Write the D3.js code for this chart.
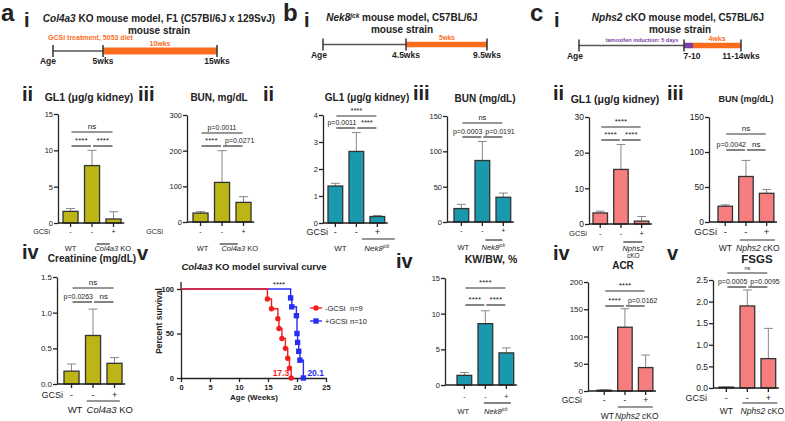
<!DOCTYPE html>
<html>
<head>
<meta charset="utf-8">
<script src="https://cdn.jsdelivr.net/npm/d3@7"></script>
<style>
  body { margin: 0; background: #fff; }
  svg { font-family: "Liberation Sans", Arial, sans-serif; }
</style>
</head>
<body>
<svg id="fig" width="785" height="421"></svg>
<script>
// ---------- data ----------
const groups = ["WT", "KO", "KO+GCSi"];
const gcsiSigns = ["-", "-", "+"];
const sigPairs = [[0, 2], [0, 1], [1, 2]];

// a: Col4a3 KO
const aTimeLabels = ["Age", "5wks", "15wks"];
const aGl1Mean = [1.6, 7.9, 0.55];
const aGl1Sd = [0.4, 2.1, 1.0];
const aGl1Ticks = [0, 5, 10, 15];
const aGl1Sig = ["ns", "****", "****"];

const aBunMean = [25, 111, 55];
const aBunSd = [4, 89, 16];
const aBunTicks = [0, 100, 200, 300];
const aBunSig = ["p=0.0011", "****", "p=0.0271"];

const aCreMean = [0.18, 0.68, 0.29];
const aCreSd = [0.1, 0.37, 0.08];
const aCreTicks = [0, 0.5, 1.0, 1.5];
const aCreSig = ["ns", "p=0.0263", "ns"];

const survWeekTicks = [0, 5, 10, 15, 20, 25];
const survPctTicks = [0, 50, 100];
const noGcsiTime = [0, 14.9, 15.6, 16.7, 16.9, 17.4, 18.0, 18.4, 18.7, 19.0];
const noGcsiSurv = [100, 88.9, 77.8, 66.7, 55.6, 44.4, 33.3, 22.2, 11.1, 0];
const gcsiTime = [0, 18.9, 19.1, 19.9, 20.0, 20.1, 20.3, 20.5, 21.1];
const gcsiSurv = [100, 90, 80, 70, 50, 40, 30, 20, 0];
const survMedian = [17.3, 20.1];
const survN = [9, 10];

// b: Nek8 jck
const bTimeLabels = ["Age", "4.5wks", "9.5wks"];
const bGl1Mean = [1.37, 2.65, 0.24];
const bGl1Sd = [0.1, 0.7, 0.04];
const bGl1Ticks = [0, 1, 2, 3, 4];
const bGl1Sig = ["****", "p=0.0011", "****"];

const bBunMean = [19, 87, 35];
const bBunSd = [6, 27, 6];
const bBunTicks = [0, 50, 100, 150];
const bBunSig = ["ns", "p=0.0003", "p=0.0191"];

const bKwMean = [1.35, 8.6, 4.5];
const bKwSd = [0.4, 1.8, 0.7];
const bKwTicks = [0, 5, 10, 15];
const bKwSig = ["****", "****", "****"];

// c: Nphs2 cKO
const cTimeLabels = ["Age", "7-10", "11-14wks"];
const cGl1Mean = [3.1, 15.3, 0.8];
const cGl1Sd = [0.5, 7.0, 1.3];
const cGl1Ticks = [0, 10, 20, 30];
const cGl1Sig = ["****", "****", "****"];

const cBunMean = [22.5, 65, 41];
const cBunSd = [2, 23, 5.5];
const cBunTicks = [0, 50, 100, 150];
const cBunSig = ["ns", "p=0.0042", "ns"];

const cAcrMean = [1.5, 117, 43];
const cAcrSd = [0.5, 34, 23];
const cAcrTicks = [0, 50, 100, 150, 200];
const cAcrSig = ["****", "****", "p=0.0162"];

const cFsgsMean = [0.02, 1.9, 0.68];
const cFsgsSd = [0, 0.37, 0.7];
const cFsgsTicks = [0, 0.5, 1.0, 1.5, 2.0, 2.5];
const cFsgsSig = ["ns", "p=0.0005", "p=0.0095"];

// ---------- styles ----------
const INK = "#222";
const OLIVE = "#bdb515";
const TEAL = "#1a98ae";
const SALMON = "#f77e7e";
const ORANGE = "#fb6d1d";
const PURPLE = "#7b3fa8";
const RED = "#f01e1e";
const BLUE = "#2a2ef0";

const svg = d3.select("#fig");
svg.append("rect").attr("width", 785).attr("height", 421).attr("fill", "#fff");

// text with italic / superscript pieces
function rich(sel, parts, size) {
  let lift = 0;
  parts.forEach(([s, st = ""]) => {
    const sp = sel.append("tspan").text(s);
    if (st.includes("i")) sp.attr("font-style", "italic");
    const want = st.includes("s") ? -size * 0.35 : 0;
    if (want !== lift) { sp.attr("dy", want - lift); lift = want; }
    if (st.includes("s")) sp.attr("font-size", size * 0.65);
  });
}
function txt(x, y, parts, size, o = {}) {
  const t = svg.append("text")
    .attr("x", x).attr("y", y)
    .attr("font-size", size)
    .attr("font-weight", o.w || "normal")
    .attr("text-anchor", o.a || "start")
    .attr("fill", o.c || INK);
  rich(t, typeof parts === "string" ? [[parts]] : parts, size);
  return t;
}

// ---------- panel letters & numerals ----------
[["a", 1], ["b", 283], ["c", 530]].forEach(([s, x]) => txt(x, 21, s, 24, { w: "bold" }));
[["i", 24, 27], ["i", 304, 27], ["i", 554, 27],
 ["ii", 22, 101], ["iii", 138, 101], ["iv", 22, 259], ["v", 137, 260],
 ["ii", 263, 101], ["iii", 413, 100], ["iv", 396, 268],
 ["ii", 553, 100], ["iii", 667, 100], ["iv", 553, 260], ["v", 667, 260]]
  .forEach(([s, x, y]) => txt(x, y, s, 20, { w: "bold" }));

// ---------- timelines ----------
function timeline(t, labels) {
  svg.append("line").attr("x1", t.xs[0]).attr("x2", t.xs[1]).attr("y1", t.y).attr("y2", t.y)
    .attr("stroke", "#555").attr("stroke-width", 1.5);
  t.bars.forEach(([x0, x1, c]) => {
    svg.append("rect").attr("x", x0).attr("y", t.y - t.th / 2).attr("width", x1 - x0).attr("height", t.th).attr("fill", c);
  });
  svg.selectAll(null).data(t.xs).join("line")
    .attr("x1", d => d).attr("x2", d => d).attr("y1", t.y - 6).attr("y2", t.y + 6)
    .attr("stroke", "#333").attr("stroke-width", 1.5);
  labels.forEach((s, i) => txt(t.lx[i], t.y + 13, s, 8.5, { w: "bold", a: "middle" }));
}

txt(159, 22, [["Col4a3", "i"], [" KO mouse model, F1 (C57Bl/6J x 129SvJ)"]], 10, { w: "bold", a: "middle" });
txt(159, 34, "mouse strain", 10, { w: "bold", a: "middle" });
timeline({ y: 51, xs: [53, 103, 217], th: 7, bars: [[103, 217, ORANGE]], lx: [48, 103, 217] }, aTimeLabels);
txt(48, 40, "GCSi treatment, 5053 diet", 7, { w: "bold", c: ORANGE });
txt(160, 45.5, "10wks", 7, { w: "bold", c: ORANGE, a: "middle" });

txt(402, 21, [["Nek8", "i"], ["jck", "is"], [" mouse model, C57BL/6J"]], 10, { w: "bold", a: "middle" });
txt(402, 33, "mouse strain", 10, { w: "bold", a: "middle" });
timeline({ y: 44.5, xs: [323, 406, 487], th: 5.5, bars: [[406, 487, ORANGE]], lx: [319, 406, 487] }, bTimeLabels);
txt(447, 39.5, "5wks", 6.5, { w: "bold", c: ORANGE, a: "middle" });

txt(678, 21, [["Nphs2", "i"], [" cKO mouse model, C57BL/6J"]], 10, { w: "bold", a: "middle" });
txt(680, 33, "mouse strain", 10, { w: "bold", a: "middle" });
timeline({ y: 45.5, xs: [579, 684, 741], th: 5.5, bars: [[684, 693, PURPLE], [693, 741, ORANGE]], lx: [575, 692, 741] }, cTimeLabels);
txt(642, 41.5, "tamoxifen induction: 5 days", 5.5, { w: "bold", c: PURPLE, a: "middle" });
txt(717, 40.5, "4wks", 7, { w: "bold", c: ORANGE, a: "middle" });

// ---------- bar panels ----------
function barPanel(p, mean, sd, ticks, sig, koParts) {
  const g = svg.append("g");
  const x = d3.scaleBand().domain(groups)
    .range([p.barStart - 0.15 * p.step, p.barStart + 2.85 * p.step])
    .paddingInner(0.3).paddingOuter(0.15);
  const y = d3.scaleLinear().domain([0, d3.max(ticks)]).range([p.y0, p.yTop]);
  const bw = x.bandwidth();
  const cx = i => x(groups[i]) + bw / 2;

  g.selectAll(".err").data(groups).join("path")
    .attr("d", (d, i) => {
      const t = y(mean[i] + sd[i]);
      return `M${cx(i)},${y(mean[i])}V${t}M${cx(i) - bw * 0.3},${t}H${cx(i) + bw * 0.3}`;
    })
    .attr("fill", "none").attr("stroke", "#888").attr("stroke-width", 1);

  g.selectAll(".bar").data(groups).join("rect")
    .attr("x", d => x(d))
    .attr("y", (d, i) => y(mean[i]))
    .attr("width", bw)
    .attr("height", (d, i) => p.y0 - y(mean[i]))
    .attr("fill", p.fill).attr("stroke", "#333").attr("stroke-width", 1.3);

  const yAxis = g.append("g").attr("transform", `translate(${p.ax},0)`)
    .call(d3.axisLeft(y).tickValues(ticks).tickSize(4).tickSizeOuter(0)
      .tickFormat(d3.format(p.fmt || "d")))
    .attr("font-family", null).attr("font-size", p.tick);
  yAxis.selectAll(".domain, .tick line").attr("stroke", INK).attr("stroke-width", 1.3);
  yAxis.selectAll(".tick text").attr("fill", INK).attr("x", -5);

  g.append("line").attr("x1", p.ax).attr("x2", x.range()[1])
    .attr("y1", p.y0).attr("y2", p.y0).attr("stroke", INK).attr("stroke-width", 1.3);
  g.selectAll(".xt").data(groups).join("line")
    .attr("x1", (d, i) => cx(i)).attr("x2", (d, i) => cx(i))
    .attr("y1", p.y0).attr("y2", p.y0 + 4).attr("stroke", INK).attr("stroke-width", 1.3);

  // significance brackets; long p-value labels hug the middle bar
  sigPairs.forEach(([i, j], k) => {
    const ly = k === 0 ? p.sigY[0] : p.sigY[1];
    g.append("line").attr("x1", cx(i) + 1).attr("x2", cx(j) - 1)
      .attr("y1", ly).attr("y2", ly).attr("stroke", "#333").attr("stroke-width", 1.2);
    const fs = k === 0 && p.topSig ? p.topSig : (sig[k].startsWith("p") ? 7 : p.sigSize);
    const wide = sig[k].length * 0.52 * fs > cx(j) - cx(i);
    if (k > 0 && wide) {
      txt(k === 1 ? cx(1) : cx(1) + 3, ly - 3, sig[k], fs, { a: k === 1 ? "end" : "start" });
    } else {
      txt((cx(i) + cx(j)) / 2, ly - 3, sig[k], fs, { a: "middle" });
    }
  });

  // GCSi row
  gcsiSigns.forEach((s, i) => txt(cx(i), p.signY, s, p.signSize, { a: "middle" }));
  if (p.gcsiX) txt(p.gcsiX, p.signY, "GCSi", p.signSize, { a: "end" });

  // group labels
  txt(cx(0) + p.wtDx, p.grpY, "WT", p.grpSize, { a: "middle" });
  const kx = (cx(1) + cx(2)) / 2 + p.koDx;
  if (p.twoLine) {
    txt(kx, p.grpY, [koParts[0]], p.grpSize, { a: "middle" });
    txt(kx, p.grpY + 6.5, koParts[1][0].trim(), p.grpSize - 1, { a: "middle" });
  } else {
    txt(kx, p.grpY, koParts, p.grpSize, { a: "middle" });
  }
  g.append("line").attr("x1", kx + p.koLine[1]).attr("x2", kx + p.koLine[2])
    .attr("y1", p.koLine[0]).attr("y2", p.koLine[0]).attr("stroke", "#333").attr("stroke-width", 1.2);

  txt(p.titleX, p.titleY, p.title, p.titleSize, { w: "bold", a: "middle" });
}

const colKO = [["Col4a3", "i"], [" KO"]];
const nekKO = [["Nek8", "i"], ["jck", "is"]];
const nphKO = [["Nphs2", "i"], [" cKO"]];

barPanel({ ax: 58, y0: 223, yTop: 114, barStart: 63, step: 21.5, fill: OLIVE, tick: 7.5,
  title: "GL1 (μg/g kidney)", titleX: 89, titleY: 101, titleSize: 10.5,
  sigY: [132, 146], sigSize: 8, signY: 234, signSize: 7, gcsiX: 50,
  grpY: 251, grpSize: 7.5, wtDx: 0, koDx: 10, koLine: [244, -16, -3] },
  aGl1Mean, aGl1Sd, aGl1Ticks, aGl1Sig, colKO);

barPanel({ ax: 187, y0: 222, yTop: 115, barStart: 193, step: 21.5, fill: OLIVE, tick: 7.5,
  title: "BUN, mg/dL", titleX: 219, titleY: 101, titleSize: 10,
  sigY: [133, 146], sigSize: 8, signY: 234, signSize: 7, gcsiX: 163,
  grpY: 251, grpSize: 7.5, wtDx: 2, koDx: 7, koLine: [244, -20, -2] },
  aBunMean, aBunSd, aBunTicks, aBunSig, colKO);

barPanel({ ax: 57, y0: 384, yTop: 277, barStart: 64, step: 21.5, fill: OLIVE, tick: 8, fmt: ".1f",
  title: "Creatinine (mg/dL)", titleX: 92, titleY: 262, titleSize: 10,
  sigY: [288, 302], sigSize: 8, signY: 398, signSize: 9, gcsiX: 63,
  grpY: 413, grpSize: 9.5, wtDx: 3.5, koDx: 6, koLine: [401, -23, 10] },
  aCreMean, aCreSd, aCreTicks, aCreSig, colKO);

barPanel({ ax: 323, y0: 223, yTop: 115, barStart: 328, step: 21, fill: TEAL, tick: 7.5,
  title: "GL1 (μg/g kidney)", titleX: 367, titleY: 101, titleSize: 10,
  sigY: [116, 128], sigSize: 7.5, signY: 235, signSize: 9, gcsiX: 328,
  grpY: 251, grpSize: 8, wtDx: 5, koDx: 10, koLine: [239, -15, 18] },
  bGl1Mean, bGl1Sd, bGl1Ticks, bGl1Sig, nekKO);

barPanel({ ax: 447, y0: 222, yTop: 116, barStart: 454, step: 21, fill: TEAL, tick: 7.5,
  title: "BUN (mg/dL)", titleX: 485, titleY: 102, titleSize: 10,
  sigY: [123, 137], sigSize: 7.5, signY: 233, signSize: 7,
  grpY: 250, grpSize: 7.5, wtDx: 2, koDx: 0.5, koLine: [240, -8, 9] },
  bBunMean, bBunSd, bBunTicks, bBunSig, nekKO);

barPanel({ ax: 445, y0: 385, yTop: 278, barStart: 457, step: 21, fill: TEAL, tick: 7.5,
  title: "KW/BW, %", titleX: 491, titleY: 263, titleSize: 10.5,
  sigY: [288, 305], sigSize: 8, signY: 399, signSize: 7,
  grpY: 414, grpSize: 7.5, wtDx: -1, koDx: 0, koLine: [403, -12, 15] },
  bKwMean, bKwSd, bKwTicks, bKwSig, nekKO);

barPanel({ ax: 589, y0: 224, yTop: 117, barStart: 593, step: 20.7, fill: SALMON, tick: 8.5,
  title: "GL1 (μg/g kidney)", titleX: 615, titleY: 103, titleSize: 10.5,
  sigY: [127, 140], sigSize: 8, signY: 236, signSize: 7.5, gcsiX: 587,
  grpY: 251, grpSize: 7.5, wtDx: -2, koDx: 2, twoLine: true, koLine: [242, -10, 9] },
  cGl1Mean, cGl1Sd, cGl1Ticks, cGl1Sig, nphKO);

barPanel({ ax: 709, y0: 222, yTop: 117, barStart: 718, step: 20.7, fill: SALMON, tick: 8.5,
  title: "BUN (mg/dL)", titleX: 746, titleY: 102, titleSize: 9,
  sigY: [134, 150], sigSize: 8, signY: 235, signSize: 9.5, gcsiX: 717,
  grpY: 251, grpSize: 8.5, wtDx: 0, koDx: 1.5, koLine: [240, -18, 17] },
  cBunMean, cBunSd, cBunTicks, cBunSig, nphKO);

barPanel({ ax: 588, y0: 391, yTop: 282, barStart: 597, step: 20.7, fill: SALMON, tick: 8,
  title: "ACR", titleX: 623, titleY: 268.5, titleSize: 10,
  sigY: [291, 306], sigSize: 8, signY: 403, signSize: 8.5, gcsiX: 582,
  grpY: 419, grpSize: 8.5, wtDx: 3, koDx: 1.5, koLine: [407, -19, 16] },
  cAcrMean, cAcrSd, cAcrTicks, cAcrSig, nphKO);

barPanel({ ax: 713, y0: 388, yTop: 280, barStart: 719, step: 21, fill: SALMON, tick: 8.5, fmt: ".1f",
  title: "FSGS", titleX: 757, titleY: 263, titleSize: 11.5,
  sigY: [273, 287], sigSize: 7.5, topSig: 5.5, signY: 401, signSize: 9, gcsiX: 707,
  grpY: 413.5, grpSize: 8.5, wtDx: 0, koDx: 4.5, koLine: [403, -20, 15] },
  cFsgsMean, cFsgsSd, cFsgsTicks, cFsgsSig, nphKO);

// ---------- survival curve ----------
const sx = d3.scaleLinear().domain([0, 25]).range([181, 326]);
const sy = d3.scaleLinear().domain([0, 100]).range([378, 289]);
const sv = svg.append("g");

const xAx = sv.append("g").attr("transform", "translate(0,378)")
  .call(d3.axisBottom(sx).tickValues(survWeekTicks).tickSize(4).tickSizeOuter(0))
  .attr("font-family", null).attr("font-size", 7.5).attr("font-weight", "bold");
const yAx = sv.append("g").attr("transform", "translate(181,0)")
  .call(d3.axisLeft(sy).tickValues(survPctTicks).tickSize(4).tickSizeOuter(0))
  .attr("font-family", null).attr("font-size", 7.5).attr("font-weight", "bold");
[xAx, yAx].forEach(a => {
  a.selectAll(".domain, .tick line").attr("stroke", INK).attr("stroke-width", 1.3);
  a.selectAll(".tick text").attr("fill", INK);
});
sv.append("line").attr("x1", 181).attr("x2", 181).attr("y1", sy(100)).attr("y2", sy(100) - 7)
  .attr("stroke", INK).attr("stroke-width", 1.3);

const stepLine = d3.line().x(d => sx(d[0])).y(d => sy(d[1])).curve(d3.curveStepAfter);
const bluePts = gcsiTime.map((t, i) => [t, gcsiSurv[i]]);
const redPts = noGcsiTime.map((t, i) => [t, noGcsiSurv[i]]);

sv.append("path").attr("d", stepLine(bluePts)).attr("fill", "none").attr("stroke", BLUE).attr("stroke-width", 1.4);
sv.append("path").attr("d", stepLine(redPts)).attr("fill", "none").attr("stroke", RED).attr("stroke-width", 1.4);
sv.selectAll(".bm").data(bluePts.slice(1)).join("rect")
  .attr("x", d => sx(d[0]) - 2.7).attr("y", d => sy(d[1]) - 2.7)
  .attr("width", 5.4).attr("height", 5.4).attr("fill", BLUE);
sv.selectAll(".rm").data(redPts.slice(1)).join("circle")
  .attr("cx", d => sx(d[0])).attr("cy", d => sy(d[1])).attr("r", 2.7).attr("fill", RED);

txt(sx(noGcsiTime[noGcsiTime.length - 1]) - 2, 376, String(survMedian[0]), 8.5, { w: "bold", c: RED, a: "end" });
txt(sx(gcsiTime[gcsiTime.length - 1]) + 4, 376, String(survMedian[1]), 8.5, { w: "bold", c: BLUE });
txt(sx((noGcsiTime[1] + gcsiTime[1]) / 2), 287, "****", 8, { a: "middle" });

txt(254, 270, [["Col4a3", "i"], [" KO model survival curve"]], 9.5, { w: "bold", a: "middle" });
txt(254, 400, "Age (Weeks)", 8, { w: "bold", a: "middle" });
txt(0, 0, "Percent survival", 8.5, { w: "bold", a: "middle" })
  .attr("transform", "translate(162,321) rotate(-90)");

// legend
[[RED, "-GCSi", survN[0], 308, "c"], [BLUE, "+GCSi", survN[1], 321, "s"]].forEach(([c, s, n, ly, m]) => {
  sv.append("line").attr("x1", 310).attr("x2", 322).attr("y1", ly).attr("y2", ly).attr("stroke", c).attr("stroke-width", 1.4);
  if (m === "c") sv.append("circle").attr("cx", 316).attr("cy", ly).attr("r", 2.7).attr("fill", c);
  else sv.append("rect").attr("x", 313.3).attr("y", ly - 2.7).attr("width", 5.4).attr("height", 5.4).attr("fill", c);
  txt(325, ly + 3, s, 7.5, {});
  txt(350, ly + 3, "n=" + n, 7.5, {});
});
</script>
</body>
</html>
